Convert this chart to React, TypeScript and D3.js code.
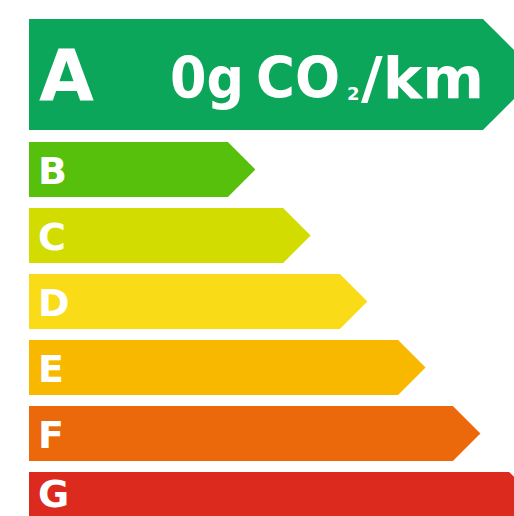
import React, { useEffect, useRef } from "react";
import * as d3 from "d3";

// energy classes, top to bottom
const grades = ["A", "B", "C", "D", "E", "F", "G"];
// length of the bar body (before the arrow tip), in % of the chart width
const barLengths = [93.6, 41, 52.4, 64.1, 76.1, 87.4, 99];
const gradeColors = ["#0ba659", "#56c00d", "#d3dc00", "#fadb18", "#f9b800", "#eb690b", "#dd2a1f"];
const headline = { value: "0g", gas: "CO", sub: "2", per: "/km" };

const App = () => {
    const svgRef = useRef<SVGSVGElement>(null);

    useEffect(() => {
        const width = 514, height = 516;
        const left = 29;

        const svg = d3.select(svgRef.current)
            .attr("width", width)
            .attr("height", height);

        svg.selectAll("*").remove();

        const x = d3.scaleLinear()
            .domain([0, 100])
            .range([left, width]);

        // the small bars B..G share one band scale; A is a double-height row above them
        const y = d3.scaleBand()
            .domain(grades.slice(1))
            .range([142, 527])
            .paddingInner(11 / 66)
            .paddingOuter(0);

        const rows = grades.map((g, i) => {
            const top = i === 0 ? 19 : (y(g) as number);
            const h = i === 0 ? 111 : y.bandwidth();
            return { g, top, h, end: x(barLengths[i]), color: gradeColors[i] };
        });

        const arrow = (d: any) => {
            const p = d3.path();
            p.moveTo(left, d.top);
            p.lineTo(d.end, d.top);
            p.lineTo(d.end + d.h / 2, d.top + d.h / 2);
            p.lineTo(d.end, d.top + d.h);
            p.lineTo(left, d.top + d.h);
            p.closePath();
            return p.toString();
        };

        svg.selectAll("path.bar")
            .data(rows)
            .enter()
            .append("path")
            .attr("class", "bar")
            .attr("d", arrow)
            .attr("fill", d => d.color);

        // the last row runs off the bottom edge, so its letter is kept inside the picture
        svg.selectAll("text.grade")
            .data(rows)
            .enter()
            .append("text")
            .attr("class", "grade")
            .attr("x", (d, i) => i === 0 ? 39 : 38)
            .attr("y", (d, i) => Math.min(d.top + d.h / 2 + (i === 0 ? 25.5 : 14.5), height - 9))
            .attr("fill", "white")
            .attr("font-family", "DejaVu Sans")
            .attr("font-weight", "bold")
            .attr("font-size", (d, i) => i === 0 ? 71 : 38)
            .text(d => d.g);

        const label = svg.append("g")
            .attr("fill", "white")
            .attr("font-family", "DejaVu Sans")
            .attr("font-weight", "bold")
            .attr("font-size", 57);

        label.append("text").attr("x", 170).attr("y", 98)
            .attr("textLength", 74).attr("lengthAdjust", "spacingAndGlyphs")
            .text(headline.value);
        label.append("text").attr("x", 256).attr("y", 98)
            .attr("textLength", 84).attr("lengthAdjust", "spacingAndGlyphs")
            .text(headline.gas);
        label.append("text").attr("x", 347).attr("y", 100).attr("font-size", 18)
            .text(headline.sub);
        label.append("text").attr("x", 361).attr("y", 98)
            .attr("textLength", 123).attr("lengthAdjust", "spacingAndGlyphs")
            .text(headline.per);
    }, []);

    return <svg ref={svgRef} style={{ position: "absolute", left: 0, top: 0 }}></svg>;
};

export default App;
